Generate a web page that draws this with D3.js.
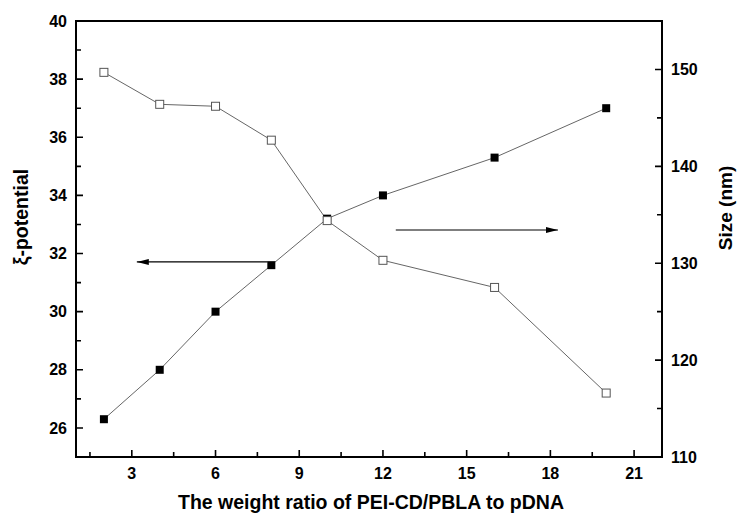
<!DOCTYPE html>
<html>
<head>
<meta charset="utf-8">
<script src="https://d3js.org/d3.v7.min.js"></script>
<style>
  body { margin: 0; background: #fff; }
  text { font-family: "Liberation Sans", Arial, sans-serif; }
</style>
</head>
<body>
<div id="chart"></div>
<script>
// weight ratio values
const ratios = [2, 4, 6, 8, 10, 12, 16, 20];
// zeta potential (left axis), filled squares
const zeta = [26.3, 28.0, 30.0, 31.6, 33.2, 34.0, 35.3, 37.0];
// particle size in nm (right axis), open squares
const sizeNm = [149.7, 146.4, 146.2, 142.7, 134.4, 130.3, 127.5, 116.6];

const xTicks = [3, 6, 9, 12, 15, 18, 21];
const leftTicks = [26, 28, 30, 32, 34, 36, 38, 40];
const rightTicks = [110, 120, 130, 140, 150];

const W = 739, H = 519;
const margin = { top: 21, right: 77, bottom: 62, left: 76 };
const width = W - margin.left - margin.right;
const height = H - margin.top - margin.bottom;

const svg = d3.select("#chart").append("svg")
    .attr("width", W)
    .attr("height", H);

const g = svg.append("g")
    .attr("transform", `translate(${margin.left},${margin.top})`);

const x = d3.scaleLinear().domain([1, 22]).range([0, width]);
const yL = d3.scaleLinear().domain([25, 40]).range([height, 0]);
const yR = d3.scaleLinear().domain([110, 155]).range([height, 0]);

// arrow marker
svg.append("defs").append("marker")
    .attr("id", "arr")
    .attr("viewBox", "0 0 12 6")
    .attr("refX", 12).attr("refY", 3)
    .attr("markerWidth", 12).attr("markerHeight", 6)
    .attr("markerUnits", "userSpaceOnUse")
    .attr("orient", "auto")
    .append("path")
    .attr("d", "M0,0 L12,3 L0,6 Z")
    .attr("fill", "#000");

// minor tick positions
const xMinor = d3.range(1.5, 22, 1.5).filter(v => !xTicks.includes(v));
const lMinor = d3.range(27, 40, 2);
const rMinor = d3.range(115, 155, 10);

const major = 7, minor = 5;

// frame
g.append("rect")
    .attr("width", width).attr("height", height)
    .attr("fill", "none")
    .attr("stroke", "#000")
    .attr("stroke-width", 2);

// inward ticks, one path for all sides
const bottomTicks = xTicks.map(v => [v, major]).concat(xMinor.map(v => [v, minor]));
const leftT = leftTicks.map(v => [v, major]).concat(lMinor.map(v => [v, minor]));
const rightT = rightTicks.map(v => [v, major]).concat(rMinor.map(v => [v, minor]));

let tickPath = "";
bottomTicks.forEach(d => { tickPath += `M${x(d[0])},${height}V${height - d[1]}`; });
leftT.forEach(d => { tickPath += `M0,${yL(d[0])}H${d[1]}`; });
rightT.forEach(d => { tickPath += `M${width},${yR(d[0])}H${width - d[1]}`; });

g.append("path")
    .attr("d", tickPath)
    .attr("fill", "none")
    .style("stroke", "#000")
    .style("stroke-width", "1.6px");

// tick labels
const lab = g.append("g")
    .attr("font-size", 16)
    .attr("font-weight", "bold")
    .attr("fill", "#000");

lab.selectAll(".xl").data(xTicks).enter().append("text")
    .attr("x", d => x(d))
    .attr("y", height + 22)
    .attr("text-anchor", "middle")
    .text(d => d);

lab.selectAll(".ll").data(leftTicks).enter().append("text")
    .attr("x", -9)
    .attr("y", d => yL(d))
    .attr("dy", "0.35em")
    .attr("text-anchor", "end")
    .text(d => d);

lab.selectAll(".rl").data(rightTicks).enter().append("text")
    .attr("x", width + 9)
    .attr("y", d => yR(d))
    .attr("dy", "0.35em")
    .attr("text-anchor", "start")
    .text(d => d);

// lines
const lineL = d3.line().x((d, i) => x(ratios[i])).y(d => yL(d));
const lineR = d3.line().x((d, i) => x(ratios[i])).y(d => yR(d));

g.append("path").datum(zeta)
    .attr("d", lineL)
    .attr("fill", "none").attr("stroke", "#666").attr("stroke-width", 1);
g.append("path").datum(sizeNm)
    .attr("d", lineR)
    .attr("fill", "none").attr("stroke", "#666").attr("stroke-width", 1);

const s = 8;
g.selectAll(".zeta").data(zeta).enter().append("rect")
    .attr("x", (d, i) => x(ratios[i]) - s / 2)
    .attr("y", d => yL(d) - s / 2)
    .attr("width", s).attr("height", s)
    .attr("fill", "#000");

g.selectAll(".size").data(sizeNm).enter().append("rect")
    .attr("x", (d, i) => x(ratios[i]) - s / 2)
    .attr("y", d => yR(d) - s / 2)
    .attr("width", s).attr("height", s)
    .attr("fill", "#fff")
    .attr("stroke", "#555").attr("stroke-width", 1);

// annotation arrows
g.append("line")
    .attr("x1", x(7.87)).attr("x2", x(3.18))
    .attr("y1", yL(31.71)).attr("y2", yL(31.71))
    .attr("stroke", "#000").attr("stroke-width", 1.2)
    .attr("marker-end", "url(#arr)");
g.append("line")
    .attr("x1", x(12.46)).attr("x2", x(18.27))
    .attr("y1", yL(32.81)).attr("y2", yL(32.81))
    .attr("stroke", "#000").attr("stroke-width", 1.2)
    .attr("marker-end", "url(#arr)");

// axis titles
svg.append("text")
    .attr("x", 371)
    .attr("y", 509)
    .attr("text-anchor", "middle")
    .attr("font-size", 19.5)
    .attr("font-weight", "bold")
    .text("The weight ratio of PEI-CD/PBLA to pDNA");

svg.append("text")
    .attr("transform", `translate(28,217) rotate(-90)`)
    .attr("text-anchor", "middle")
    .attr("font-size", 19.5)
    .attr("font-weight", "bold")
    .text("ξ-potential");

svg.append("text")
    .attr("transform", `translate(732,208) rotate(-90)`)
    .attr("text-anchor", "middle")
    .attr("font-size", 19)
    .attr("font-weight", "bold")
    .text("Size (nm)");
</script>
</body>
</html>
